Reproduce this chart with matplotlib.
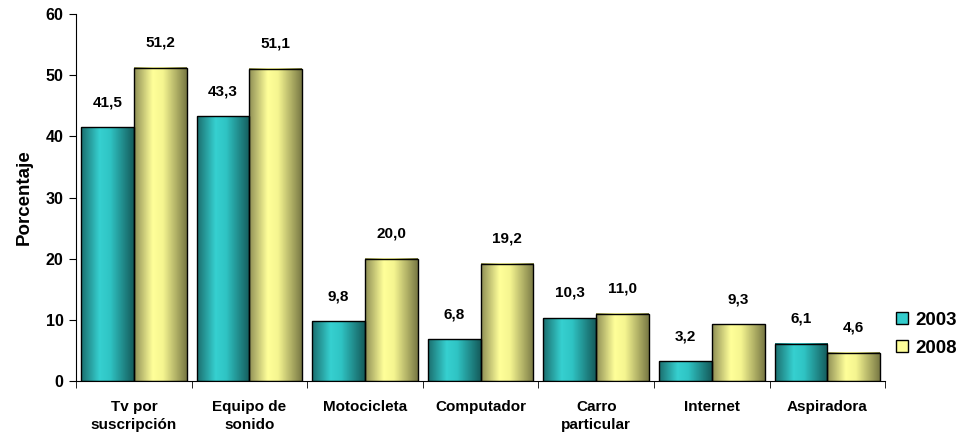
import numpy as np
import matplotlib
matplotlib.use("Agg")
import matplotlib.pyplot as plt
from matplotlib.colors import LinearSegmentedColormap
from matplotlib.patches import Patch

categories = ["Tv por\nsuscripción", "Equipo de\nsonido", "Motocicleta", "Computador",
              "Carro\nparticular", "Internet", "Aspiradora"]
v2003 = [41.5, 43.3, 9.8, 6.8, 10.3, 3.2, 6.1]
v2008 = [51.2, 51.1, 20.0, 19.2, 11.0, 9.3, 4.6]
series_names = ["2003", "2008"]

plt.rcParams['font.family'] = ['Liberation Sans', 'DejaVu Sans']
plt.rcParams['font.weight'] = 'bold'

fig = plt.figure(figsize=(9.59, 4.40), dpi=100)
ax = fig.add_axes([0.0793, 0.134, 0.8437, 0.834])

teal_cmap = LinearSegmentedColormap.from_list(
    "teal", [(0.0, "#1b6f6f"), (0.35, "#36d0d0"), (0.55, "#2fc4c4"), (1.0, "#155c5c")])
yel_cmap = LinearSegmentedColormap.from_list(
    "yel", [(0.0, "#8f8f55"), (0.35, "#ffff99"), (0.55, "#f5f590"), (1.0, "#7a7a45")])

x = np.arange(len(categories))
w = 0.457
grad = np.linspace(0, 1, 100).reshape(1, -1)

def draw(vals, offset, cmap):
    bars = ax.bar(x + offset, vals, width=w, facecolor='none', edgecolor='black',
                  linewidth=1.0, zorder=3)
    for b, v in zip(bars, vals):
        x0 = b.get_x()
        ax.imshow(grad, cmap=cmap, aspect='auto', extent=(x0, x0 + w, 0, v),
                  zorder=2, interpolation='bilinear')
        ax.annotate(f"{v:.1f}".replace('.', ','), (x0 + w / 2, v), xytext=(0, 13),
                    textcoords='offset points', ha='center', va='bottom',
                    fontsize=11, fontweight='bold')
    return bars

draw(v2003, -w / 2, teal_cmap)
draw(v2008, w / 2, yel_cmap)

ax.set_xlim(-0.5, len(categories) - 0.5)
ax.set_ylim(0, 60)
ax.set_yticks(np.arange(0, 61, 10))
ax.tick_params(axis='y', direction='out', length=5, labelsize=11.5, pad=4)
ax.set_xticks(x)
ax.set_xticklabels(categories, fontsize=11, fontweight='bold', linespacing=1.35)
ax.set_xticks(np.arange(-0.5, len(categories), 1), minor=True)
ax.tick_params(axis='x', which='major', length=0, pad=14)
ax.tick_params(axis='x', which='minor', length=5, direction='out')
for s in ['top', 'right']:
    ax.spines[s].set_visible(False)
ax.spines['left'].set_color('black')
ax.spines['bottom'].set_color('black')
ax.set_ylabel("Porcentaje", fontsize=13.5, fontweight='bold', labelpad=9)

handles = [Patch(facecolor="#33cccc", edgecolor='black'),
           Patch(facecolor="#ffff99", edgecolor='black')]
fig.legend(handles, series_names, loc='center left', bbox_to_anchor=(0.917, 0.24),
           frameon=False, prop={'size': 13.5, 'weight': 'bold'},
           handlelength=0.6, handleheight=0.6, handletextpad=0.4, labelspacing=0.6)

fig.savefig("out.png", dpi=100)
